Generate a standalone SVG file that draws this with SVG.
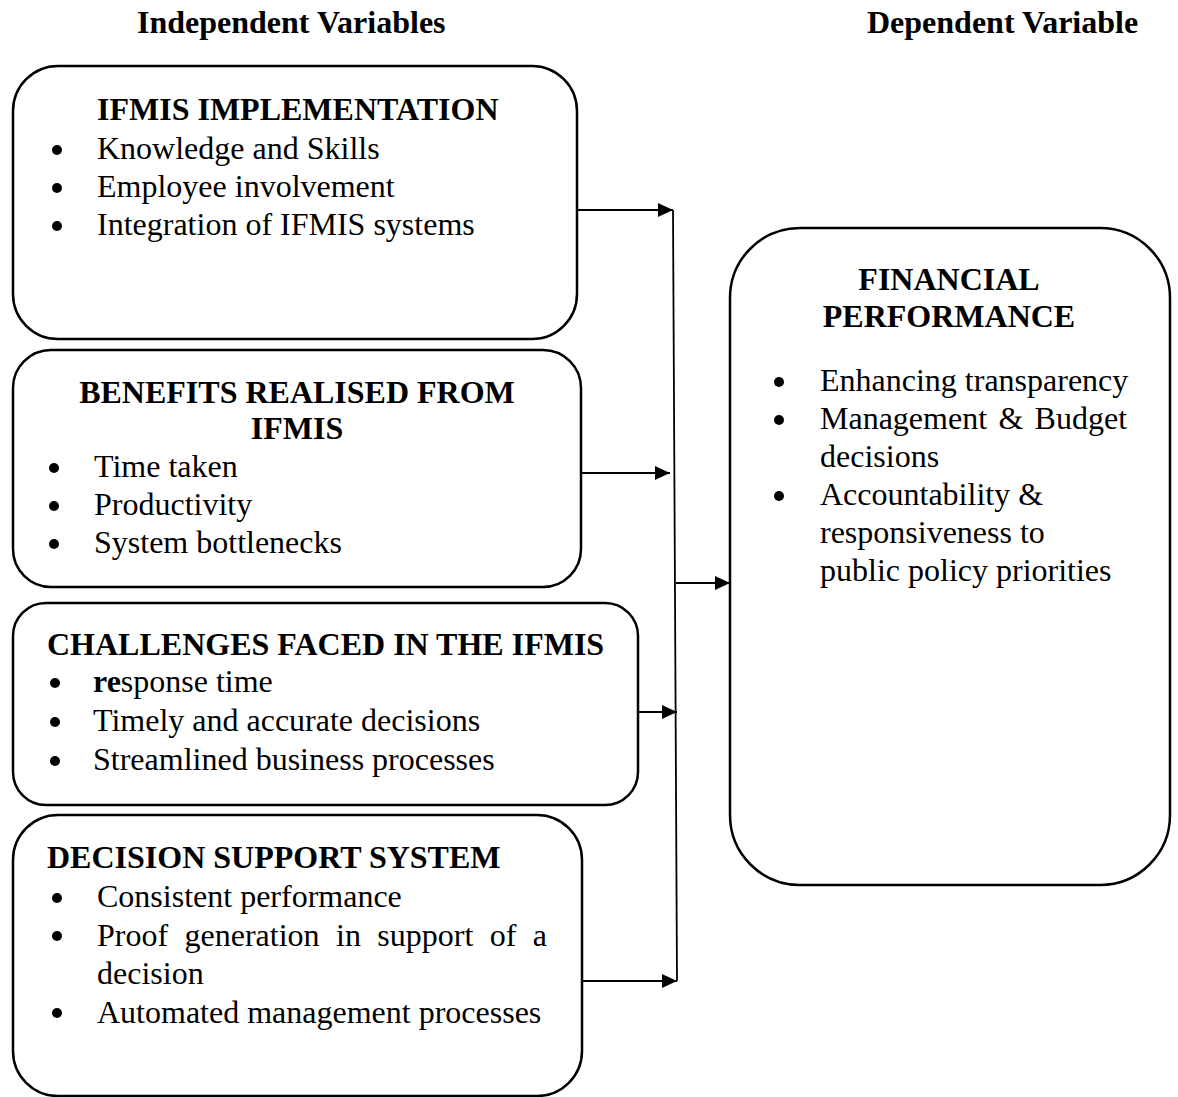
<svg xmlns="http://www.w3.org/2000/svg" width="1178" height="1097" viewBox="0 0 1178 1097">
<style>
.box{fill:#fff;stroke:#000;stroke-width:2.5}
.t{font-family:"Liberation Serif","Times New Roman",serif;font-size:32px;fill:#000}
.b{font-weight:bold}
.bul{fill:#000}
.con{stroke:#000;stroke-width:1.8;fill:none}
</style>
<defs>
<marker id="ah" markerWidth="15" markerHeight="14" refX="15" refY="7" orient="auto" markerUnits="userSpaceOnUse">
<path d="M0,0 L15,7 L0,14 Z" fill="#000"/>
</marker>
</defs>
<rect width="1178" height="1097" fill="#fff"/>
<g id="headers">
<text class="t b" x="137" y="33">Independent Variables</text>
<text class="t b" x="867" y="33">Dependent Variable</text>
</g>
<g id="connectors">
<line class="con" x1="673" y1="210" x2="677" y2="981"/>
<line class="con" x1="577" y1="210" x2="673" y2="210" marker-end="url(#ah)"/>
<line class="con" x1="582" y1="473" x2="670" y2="473" marker-end="url(#ah)"/>
<line class="con" x1="603" y1="712" x2="677" y2="712" marker-end="url(#ah)"/>
<line class="con" x1="582" y1="981" x2="677" y2="981" marker-end="url(#ah)"/>
<line class="con" x1="676" y1="583" x2="730" y2="583" marker-end="url(#ah)"/>
</g>
<g id="ifmis-implementation">
<rect class="box" x="13" y="66" width="564" height="273" rx="45" ry="45"/>
<text class="t b" x="97" y="120">IFMIS IMPLEMENTATION</text>
<circle class="bul" cx="57" cy="150" r="5"/>
<text class="t" x="97" y="159">Knowledge and Skills</text>
<circle class="bul" cx="57" cy="188" r="5"/>
<text class="t" x="97" y="197">Employee involvement</text>
<circle class="bul" cx="57" cy="226" r="5"/>
<text class="t" x="97" y="235">Integration of IFMIS systems</text>
</g>
<g id="benefits">
<rect class="box" x="13" y="350" width="568" height="237" rx="38" ry="38"/>
<text class="t b" x="297" y="403" text-anchor="middle">BENEFITS REALISED FROM</text>
<text class="t b" x="297" y="439" text-anchor="middle">IFMIS</text>
<circle class="bul" cx="54" cy="468" r="5"/>
<text class="t" x="94" y="477">Time taken</text>
<circle class="bul" cx="54" cy="506" r="5"/>
<text class="t" x="94" y="515">Productivity</text>
<circle class="bul" cx="54" cy="544" r="5"/>
<text class="t" x="94" y="553">System bottlenecks</text>
</g>
<g id="challenges">
<rect class="box" x="13" y="603" width="625" height="202" rx="33" ry="33"/>
<text class="t b" x="47" y="655">CHALLENGES FACED IN THE IFMIS</text>
<circle class="bul" cx="55" cy="683" r="5"/>
<text class="t" x="93" y="692"><tspan class="b">re</tspan>sponse time</text>
<circle class="bul" cx="55" cy="722" r="5"/>
<text class="t" x="93" y="731">Timely and accurate decisions</text>
<circle class="bul" cx="55" cy="761" r="5"/>
<text class="t" x="93" y="770">Streamlined business processes</text>
</g>
<g id="decision-support">
<rect class="box" x="13" y="815" width="569" height="281" rx="45" ry="45"/>
<text class="t b" x="47" y="868">DECISION SUPPORT SYSTEM</text>
<circle class="bul" cx="57" cy="898" r="5"/>
<text class="t" x="97" y="907">Consistent performance</text>
<circle class="bul" cx="57" cy="936" r="5"/>
<text class="t" y="945.5"><tspan x="97">Proof</tspan><tspan x="184.5">generation</tspan><tspan x="336">in</tspan><tspan x="377.3">support</tspan><tspan x="489.7">of</tspan><tspan x="532.8">a</tspan></text>
<text class="t" x="97" y="984">decision</text>
<circle class="bul" cx="57" cy="1013" r="5"/>
<text class="t" x="97" y="1022.5">Automated management processes</text>
</g>
<g id="financial-performance">
<rect class="box" x="730" y="228" width="440" height="657" rx="70" ry="70"/>
<text class="t b" x="949" y="290" text-anchor="middle">FINANCIAL</text>
<text class="t b" x="949" y="327" text-anchor="middle">PERFORMANCE</text>
<circle class="bul" cx="779" cy="382" r="5"/>
<text class="t" x="820" y="391">Enhancing transparency</text>
<circle class="bul" cx="779" cy="420" r="5"/>
<text class="t" y="429"><tspan x="820">Management</tspan><tspan x="998.4">&amp;</tspan><tspan x="1034.6">Budget</tspan></text>
<text class="t" x="820" y="467">decisions</text>
<circle class="bul" cx="779" cy="496" r="5"/>
<text class="t" x="820" y="505">Accountability &amp;</text>
<text class="t" x="820" y="543">responsiveness to</text>
<text class="t" x="820" y="581">public policy priorities</text>
</g>
</svg>
